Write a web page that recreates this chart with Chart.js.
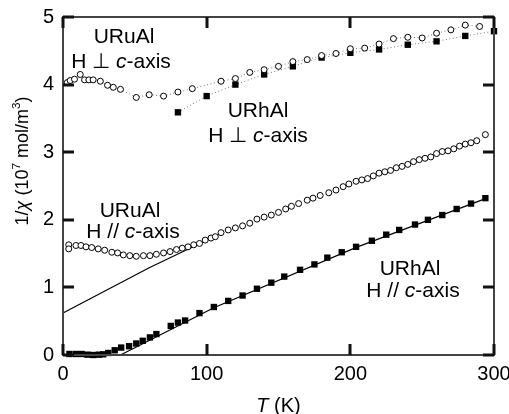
<!DOCTYPE html>
<html>
<head>
<meta charset="utf-8">
<script src="https://cdn.jsdelivr.net/npm/chart.js@4/dist/chart.umd.min.js"></script>
<style>
html, body { margin: 0; padding: 0; background: #fff; }
canvas { display: block; }
</style>
</head>
<body>
<canvas id="chart" width="509" height="414"></canvas>
<script>
// URuAl, H perpendicular to c (open circles, dotted)
var uruPerpT = [3, 5, 8, 12, 15, 18, 21, 26, 31, 35, 40, 51, 60, 70, 80, 90, 110, 120, 130, 140, 150, 160, 170, 180, 190, 200, 210, 220, 230, 240, 250, 260, 270, 280, 290];
var uruPerpV = [4.03, 4.06, 4.08, 4.15, 4.07, 4.07, 4.07, 4.05, 3.99, 3.96, 3.93, 3.81, 3.85, 3.83, 3.89, 3.94, 4.05, 4.09, 4.18, 4.22, 4.27, 4.34, 4.37, 4.43, 4.46, 4.53, 4.54, 4.60, 4.68, 4.70, 4.69, 4.76, 4.81, 4.88, 4.86];

// URhAl, H perpendicular to c (filled squares, dotted)
var urhPerpT = [80, 100, 120, 140, 160, 180, 200, 220, 240, 260, 280, 300];
var urhPerpV = [3.59, 3.83, 4.00, 4.15, 4.27, 4.40, 4.47, 4.52, 4.59, 4.64, 4.72, 4.79];

// URuAl, H // c (open circles)
var uruParT = [4, 4, 9, 12.5, 16, 20, 24.5, 29, 34, 38, 42, 46.5, 51, 56, 60.5, 65, 70, 74.5, 79, 83, 87, 91, 95, 99, 103, 106, 110, 115, 120, 125, 130, 135, 140, 145, 150, 155, 159, 164, 170, 174, 179, 185, 190, 195, 199, 204,
               208, 212, 216, 220, 224, 228, 232, 236, 240, 244, 248, 252, 256, 260, 264, 268, 272, 276, 280, 284, 288, 294];
var uruParV = [1.63, 1.57, 1.62, 1.62, 1.60, 1.59, 1.57, 1.55, 1.52, 1.51, 1.48, 1.47, 1.46, 1.47, 1.47, 1.49, 1.51, 1.53, 1.56, 1.58, 1.60, 1.63, 1.65, 1.70, 1.73, 1.75, 1.81, 1.85, 1.88, 1.91, 1.95, 2.01, 2.04, 2.07, 2.11, 2.16, 2.20, 2.24, 2.29, 2.32, 2.36, 2.40, 2.44, 2.49, 2.53, 2.57,
               2.59, 2.61, 2.65, 2.69, 2.71, 2.73, 2.77, 2.79, 2.82, 2.86, 2.89, 2.91, 2.93, 2.98, 3.01, 3.02, 3.05, 3.09, 3.12, 3.14, 3.17, 3.26];

// URhAl, H // c (filled squares)
var urhParT = [4.5, 9, 13, 17, 21, 25, 28, 31.5, 36, 40.5, 46, 51, 55.5, 60.5, 65, 75, 80, 85, 95, 105, 115, 125, 135, 145, 154, 165, 175, 184, 194, 204, 215, 225, 234, 245, 254, 264, 274, 284, 294];
var urhParV = [0.015, 0.015, 0.015, 0.005, 0, 0.005, 0.01, 0.03, 0.07, 0.11, 0.13, 0.17, 0.21, 0.26, 0.31, 0.43, 0.48, 0.51, 0.62, 0.71, 0.80, 0.88, 0.98, 1.07, 1.16, 1.26, 1.34, 1.44, 1.52, 1.60, 1.69, 1.78, 1.85, 1.93, 2.00, 2.07, 2.16, 2.24, 2.32];

// solid fit lines
var uruFitT = [0, 60, 112];
var uruFitV = [0.62, 1.29, 1.82];
var urhFitT = [40, 105, 205, 295];
var urhFitV = [0, 0.70, 1.60, 2.32];

var xTickVals = [0, 100, 200, 300];
var yTickVals = [0, 1, 2, 3, 4, 5];

var FONT = '"Liberation Sans", Arial, Helvetica, sans-serif';

function pts(xs, ys) {
    return xs.map(function(x, i) { return { x: x, y: ys[i] }; });
}

// draw a row of text pieces, some italic or raised
function drawRuns(ctx, runs, x, y, size) {
    var total = 0;
    runs.forEach(function(r) {
        var s = r.sup ? size * 0.65 : size;
        ctx.font = (r.it ? 'italic ' : '') + s + 'px ' + FONT;
        r.w = ctx.measureText(r.t).width;
        total += r.w;
    });
    var cx = x - total / 2;
    runs.forEach(function(r) {
        var s = r.sup ? size * 0.65 : size;
        ctx.font = (r.it ? 'italic ' : '') + s + 'px ' + FONT;
        ctx.fillText(r.t, cx, r.sup ? y - size * 0.42 : y);
        cx += r.w;
    });
}

var framePlugin = {
    id: 'frame',
    afterDraw: function(chart) {
        var ctx = chart.ctx, a = chart.chartArea;
        var xs = chart.scales.x, ys = chart.scales.y;
        var L = Math.round(a.left), R = Math.round(a.right), T = Math.round(a.top), B = Math.round(a.bottom);
        ctx.save();
        ctx.fillStyle = '#444';
        // frame
        ctx.fillRect(L - 1, T - 1, R - L + 2, 2);
        ctx.fillRect(L - 1, B - 1, R - L + 2, 2);
        ctx.fillRect(L - 1, T - 1, 2, B - T + 2);
        ctx.fillRect(R - 1, T - 1, 2, B - T + 2);
        // inward ticks
        ctx.fillStyle = '#111';
        for (var i = 0; i < xTickVals.length; i++) {
            var px = Math.round(xs.getPixelForValue(xTickVals[i]));
            ctx.fillRect(px - 1.5, B - 11, 3, 11);
            ctx.fillRect(px - 1.5, T, 3, 11);
        }
        for (var j = 0; j < yTickVals.length; j++) {
            var py = Math.round(ys.getPixelForValue(yTickVals[j]));
            ctx.fillRect(L, py - 1.5, 11, 3);
            ctx.fillRect(R - 11, py - 1.5, 11, 3);
        }

        ctx.fillStyle = '#000';
        ctx.textBaseline = 'alphabetic';
        ctx.textAlign = 'left';

        // series labels
        drawRuns(ctx, [{ t: 'URuAl' }], 124, 43, 21);
        drawRuns(ctx, [{ t: 'H \u22A5 ' }, { t: 'c', it: true }, { t: '-axis' }], 121, 68, 21);
        drawRuns(ctx, [{ t: 'URhAl' }], 258, 117, 21);
        drawRuns(ctx, [{ t: 'H \u22A5 ' }, { t: 'c', it: true }, { t: '-axis' }], 258, 142, 21);
        drawRuns(ctx, [{ t: 'URuAl' }], 130, 217, 21);
        drawRuns(ctx, [{ t: 'H // ' }, { t: 'c', it: true }, { t: '-axis' }], 133, 238, 21);
        drawRuns(ctx, [{ t: 'URhAl' }], 410, 275, 21);
        drawRuns(ctx, [{ t: 'H // ' }, { t: 'c', it: true }, { t: '-axis' }], 413, 297, 21);

        // x title
        drawRuns(ctx, [{ t: 'T', it: true }, { t: ' (K)' }], (a.left + a.right) / 2, 412, 20);

        // y title
        ctx.translate(21, 161);
        ctx.rotate(-Math.PI / 2);
        drawRuns(ctx, [{ t: '1/' }, { t: '\u03C7', it: true }, { t: ' (10' }, { t: '7', sup: true }, { t: ' mol/m' }, { t: '3', sup: true }, { t: ')' }], 0, 7, 18);
        ctx.restore();
    }
};

var ctx = document.getElementById('chart').getContext('2d');
var myChart = new Chart(ctx, {
    type: 'scatter',
    data: {
        datasets: [{
            label: 'URuAl H perp c',
            data: pts(uruPerpT, uruPerpV),
            showLine: true,
            borderColor: '#777',
            borderWidth: 1,
            borderDash: [1, 2.5],
            pointStyle: 'circle',
            pointRadius: 3,
            pointBorderWidth: 1,
            pointBorderColor: '#000',
            pointBackgroundColor: '#fff',
            order: 0
        }, {
            label: 'URhAl H perp c',
            data: pts(urhPerpT, urhPerpV),
            showLine: true,
            borderColor: '#777',
            borderWidth: 1,
            borderDash: [1, 2.5],
            pointStyle: 'rect',
            pointRadius: 4.5,
            pointBorderWidth: 0,
            pointBackgroundColor: '#000',
            order: 0
        }, {
            label: 'URuAl H // c',
            data: pts(uruParT, uruParV),
            showLine: false,
            pointStyle: 'circle',
            pointRadius: 3,
            pointBorderWidth: 1,
            pointBorderColor: '#000',
            pointBackgroundColor: '#fff',
            order: 0
        }, {
            label: 'URhAl H // c',
            data: pts(urhParT, urhParV),
            showLine: false,
            pointStyle: 'rect',
            pointRadius: 4.5,
            pointBorderWidth: 0,
            pointBackgroundColor: '#000',
            order: 0
        }, {
            label: 'URuAl fit',
            data: pts(uruFitT, uruFitV),
            showLine: true,
            borderColor: '#000',
            borderWidth: 1.2,
            pointRadius: 0,
            tension: 0,
            order: 1
        }, {
            label: 'URhAl fit',
            data: pts(urhFitT, urhFitV),
            showLine: true,
            borderColor: '#000',
            borderWidth: 1.2,
            pointRadius: 0,
            tension: 0,
            order: 1
        }]
    },
    options: {
        responsive: false,
        animation: false,
        clip: false,
        layout: { padding: { left: 0, right: 15, top: 17, bottom: 0 } },
        plugins: {
            legend: { display: false },
            tooltip: { enabled: false }
        },
        scales: {
            x: {
                type: 'linear',
                min: 0,
                max: 300,
                afterBuildTicks: function(scale) {
                    scale.ticks = xTickVals.map(function(v) { return { value: v }; });
                },
                afterFit: function(scale) {
                    scale.height = 59;
                    scale.paddingLeft = 0;
                    scale.paddingRight = 0;
                },
                ticks: {
                    color: '#000',
                    font: { size: 20, family: FONT },
                    padding: 7,
                    maxRotation: 0
                },
                grid: { display: false, drawTicks: false },
                border: { display: false }
            },
            y: {
                type: 'linear',
                min: 0,
                max: 5,
                afterBuildTicks: function(scale) {
                    scale.ticks = yTickVals.map(function(v) { return { value: v }; });
                },
                afterFit: function(scale) {
                    scale.width = 63;
                    scale.paddingTop = 0;
                    scale.paddingBottom = 0;
                },
                ticks: {
                    color: '#000',
                    font: { size: 20, family: FONT },
                    padding: 9
                },
                grid: { display: false, drawTicks: false },
                border: { display: false }
            }
        }
    },
    plugins: [framePlugin]
});
</script>
</body>
</html>
